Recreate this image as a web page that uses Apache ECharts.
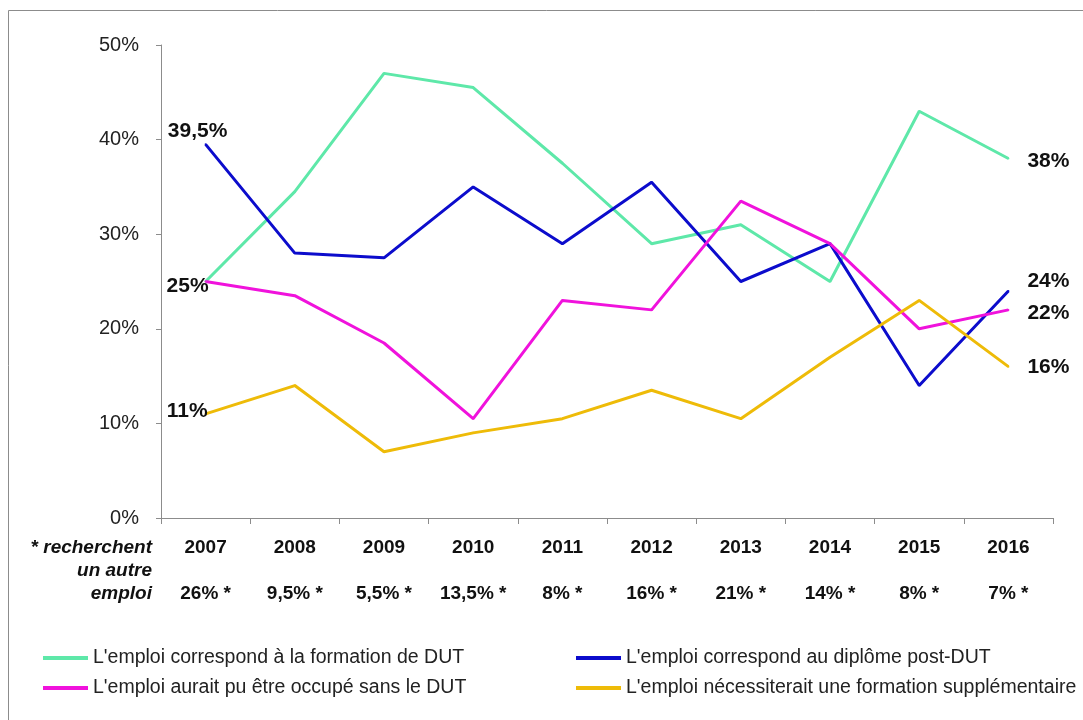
<!DOCTYPE html>
<html>
<head>
<meta charset="utf-8">
<script src="https://cdn.jsdelivr.net/npm/echarts@6/dist/echarts.min.js"></script>
<style>
  html, body { margin: 0; padding: 0; background: #fff; }
  #main { width: 1083px; height: 720px; }
</style>
</head>
<body>
<div id="main"></div>
<script>
// données
const years = ["2007", "2008", "2009", "2010", "2011", "2012", "2013", "2014", "2015", "2016"];
const autreEmploi = ["26% *", "9,5% *", "5,5% *", "13,5% *", "8% *", "16% *", "21% *", "14% *", "8% *", "7% *"];
const formationDut = [25, 34.5, 47, 45.5, 37.5, 29, 31, 25, 43, 38];
const postDut = [39.5, 28, 27.5, 35, 29, 35.5, 25, 29, 14, 24];
const sansDut = [25, 23.5, 18.5, 10.5, 23, 22, 33.5, 29, 20, 22];
const formationSupp = [11, 14, 7, 9, 10.5, 13.5, 10.5, 17, 23, 16];

const fr = (v) => String(v).replace(".", ",") + "%";

const labelStyle = {
  show: true,
  formatter: (p) => fr(p.value),
  fontFamily: "Liberation Sans, Arial, sans-serif",
  fontWeight: "bold",
  fontSize: 21,
  color: "#111",
};

// étiquettes sur le premier / dernier point
let withLabels = (values, first, last) =>
  values.map((v, i) => {
    if (i === 0 && first) return { value: v, label: Object.assign({}, labelStyle, first) };
    if (i === values.length - 1 && last) return { value: v, label: Object.assign({}, labelStyle, last) };
    return v;
  });

let mkSeries = (name, color, data) => ({
  name: name,
  type: "line",
  data: data,
  symbol: "circle",
  symbolSize: 2,
  showSymbol: true,
  itemStyle: { color: color },
  lineStyle: { color: color, width: 3 },
  emphasis: { disabled: true },
});

const legendText = { fontFamily: "Liberation Sans, Arial, sans-serif", fontSize: 19.5, color: "#222" };

let chart = echarts.init(document.getElementById("main"));
let option = {
  animation: false,
  backgroundColor: "#fff",
  textStyle: { fontFamily: "Liberation Sans, Arial, sans-serif" },
  grid: { left: 161, top: 45, right: 30, bottom: 202 },
  graphic: [
    {
      type: "rect",
      shape: { x: 8.5, y: 10.5, width: 1200, height: 900 },
      style: { fill: "none", stroke: "#8c8c8c", lineWidth: 1 },
      silent: true,
    },
    {
      type: "text",
      x: 152,
      y: 536,
      style: {
        text: "* recherchent\nun autre\nemploi",
        align: "right",
        verticalAlign: "top",
        lineHeight: 23,
        font: "italic bold 19px Liberation Sans, Arial, sans-serif",
        fill: "#111",
      },
      silent: true,
    },
  ],
  legend: [
    {
      orient: "vertical",
      left: 38,
      top: 643,
      itemGap: 10,
      itemWidth: 45,
      itemHeight: 4,
      icon: "rect",
      data: ["L'emploi correspond à la formation de DUT", "L'emploi aurait pu être occupé sans le DUT"],
      textStyle: legendText,
    },
    {
      orient: "vertical",
      left: 571,
      top: 643,
      itemGap: 10,
      itemWidth: 45,
      itemHeight: 4,
      icon: "rect",
      data: ["L'emploi correspond au diplôme post-DUT", "L'emploi nécessiterait une formation supplémentaire"],
      textStyle: legendText,
    },
  ],
  xAxis: {
    type: "category",
    data: years,
    boundaryGap: true,
    axisLine: { lineStyle: { color: "#8c8c8c", width: 1 } },
    axisTick: { show: true, length: 6, lineStyle: { color: "#8c8c8c" } },
    axisLabel: {
      formatter: (v, i) => v + "\n\n" + autreEmploi[i],
      fontFamily: "Liberation Sans, Arial, sans-serif",
      fontWeight: "bold",
      fontSize: 19,
      lineHeight: 23,
      color: "#111",
      margin: 18,
      interval: 0,
    },
  },
  yAxis: {
    type: "value",
    min: 0,
    max: 50,
    interval: 10,
    axisLine: { show: true, lineStyle: { color: "#8c8c8c", width: 1 } },
    axisTick: { show: true, length: 5, lineStyle: { color: "#8c8c8c" } },
    splitLine: { show: false },
    axisLabel: {
      formatter: "{value}%",
      fontFamily: "Liberation Sans, Arial, sans-serif",
      fontSize: 20,
      color: "#222",
      margin: 22,
    },
  },
  series: [
    mkSeries("L'emploi correspond à la formation de DUT", "#5ee8a9",
      withLabels(formationDut, { position: "left", distance: 0, offset: [4, 5] }, { position: "right", distance: 18, offset: [0, 3] })),
    mkSeries("L'emploi correspond au diplôme post-DUT", "#0c0ccc",
      withLabels(postDut, { position: "top", distance: 2, offset: [-8, 0] }, { position: "right", distance: 18, offset: [0, -10] })),
    mkSeries("L'emploi aurait pu être occupé sans le DUT", "#f012dc",
      withLabels(sansDut, null, { position: "right", distance: 18, offset: [0, 3] })),
    mkSeries("L'emploi nécessiterait une formation supplémentaire", "#eebb08",
      withLabels(formationSupp, { position: "left", distance: 0, offset: [3, -3] }, { position: "right", distance: 18, offset: [0, 1] })),
  ],
};
chart.setOption(option);
</script>
</body>
</html>
